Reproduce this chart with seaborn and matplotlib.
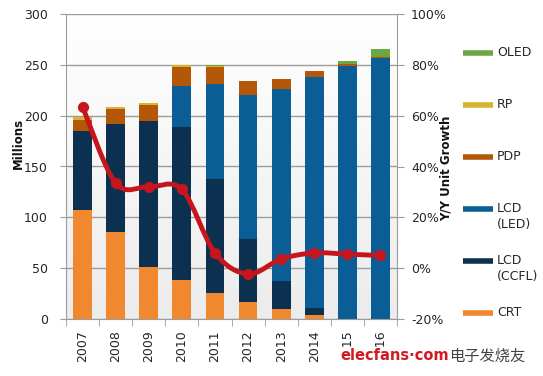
# TV shipments by technology, 2007-2016, with Y/Y unit growth line

import numpy as np
import matplotlib
matplotlib.use("Agg")
import matplotlib.pyplot as plt
import seaborn as sns
from matplotlib.path import Path
from matplotlib.patches import PathPatch
from matplotlib.lines import Line2D
from matplotlib.ticker import FuncFormatter


# data (millions of units)

years = ["2007", "2008", "2009", "2010", "2011", "2012", "2013", "2014", "2015", "2016"]
crt = [107, 86, 51, 38, 25.5, 17, 10, 4, 0, 0]
lcd_ccfl = [78, 106, 144, 151, 112.5, 62, 27, 7, 0, 0]
lcd_led = [0, 0, 0, 40, 93, 141, 189, 227, 249, 257]
pdp = [11, 14.5, 15, 19, 17, 14, 10, 6, 1.5, 0.5]
rp = [3, 2, 2, 1.5, 1, 0.5, 0, 0, 0, 0]
oled = [0, 0, 0, 0, 0.5, 0, 0, 0, 3, 8]
growth = [63.5, 33.5, 32, 31, 6, -2.3, 3.6, 6, 5.5, 5]   # Y/Y unit growth, %

labels = ["CRT", "LCD\n(CCFL)", "LCD\n(LED)", "PDP", "RP", "OLED"]
colors = ["#f08830", "#0c3150", "#0b5e95", "#b45709", "#d8b42c", "#6aa843"]
red = "#c4161c"
gray = "#9c9c9c"


# figure

sns.set_style("white")
plt.rcParams["font.family"] = ["DejaVu Sans"]

fig = plt.figure(figsize=(5.43, 3.76), dpi=100)
W, H = 543, 376
ax = fig.add_axes([66 / W, 1 - 319 / H, (397 - 66) / W, (319 - 14) / H])

# stacked bars: draw cumulative totals, tallest first
layers = [crt, lcd_ccfl, lcd_led, pdp, rp, oled]
cum = np.cumsum(np.array(layers, dtype=float), axis=0)
for i in range(len(layers) - 1, -1, -1):
    sns.barplot(x=years, y=cum[i], color=colors[i], width=0.57, saturation=1,
                linewidth=0, ax=ax, zorder=2)

# soft background gradient
grad = np.linspace(0, 1, 256).reshape(-1, 1)
ax.imshow(grad, extent=[-0.5, 9.5, 0, 300], aspect="auto", origin="upper",
          cmap=matplotlib.colors.LinearSegmentedColormap.from_list("bg", ["#ffffff", "#ececec"]),
          zorder=0)

ax.set_xlim(-0.5, 9.5)
ax.set_ylim(0, 300)
ax.set_yticks(range(0, 301, 50))
ax.set_xticks(range(len(years)))
ax.set_xticklabels(years, rotation=90)
ax.set_xticks(np.arange(-0.5, 10, 1), minor=True)
ax.set_xlabel("")
ax.set_ylabel("")
ax.yaxis.grid(True, color=gray, linewidth=1)
ax.set_axisbelow(True)

ax.tick_params(axis="y", length=4, color=gray, labelsize=9, labelcolor="#262626", pad=9, left=True)
ax.tick_params(axis="x", which="major", length=0, labelsize=9, labelcolor="#262626", pad=8)
ax.tick_params(axis="x", which="minor", length=5, color=gray, bottom=True)

for s in ["left", "bottom"]:
    ax.spines[s].set_color(gray)
ax.spines["top"].set_visible(False)
ax.spines["right"].set_visible(False)


# growth line on the right axis
ax2 = ax.twinx()
ax2.set_ylim(-20, 100)
ax2.set_yticks(range(-20, 101, 20))
ax2.yaxis.set_major_formatter(FuncFormatter(lambda v, p: f"{v:.0f}%"))

pts = np.column_stack([np.arange(len(growth)), growth]).astype(float)
n = len(pts)
verts = [pts[0]]
codes = [Path.MOVETO]
for i in range(n - 1):
    p0 = pts[max(i - 1, 0)]
    p1 = pts[i]
    p2 = pts[i + 1]
    p3 = pts[min(i + 2, n - 1)]
    verts += [p1 + (p2 - p0) / 6, p2 - (p3 - p1) / 6, p2]
    codes += [Path.CURVE4] * 3
ax2.add_patch(PathPatch(Path(verts, codes), facecolor="none", edgecolor=red,
                        linewidth=3.5, capstyle="round", zorder=3))
sns.scatterplot(x=np.arange(len(growth)), y=growth, color=red, s=65,
                linewidth=0, ax=ax2, zorder=4)

ax.set_xlim(-0.5, 9.5)
ax2.set_ylim(-20, 100)
ax2.set_ylabel("")
ax2.tick_params(axis="y", length=5, color=gray, labelsize=9, labelcolor="#262626", pad=5, right=True)
for s in ["left", "bottom", "top"]:
    ax2.spines[s].set_visible(False)
ax2.spines["right"].set_color(gray)

# axis titles
fig.text(18 / W, 1 - 143 / H, "Millions", rotation=90, ha="center", va="center",
         fontsize=8.5, fontweight="bold", color="#111111")
fig.text(446 / W, 1 - 168 / H, "Y/Y Unit Growth", rotation=90, ha="center", va="center",
         fontsize=8.5, fontweight="bold", color="#111111")

# legend, drawn by hand to keep the wide spacing
legend_y = {"OLED": 53, "RP": 105, "PDP": 157, "LCD\n(LED)": 209, "LCD\n(CCFL)": 261, "CRT": 313}
for lab, col in zip(labels, colors):
    y = 1 - legend_y[lab] / H
    fig.add_artist(Line2D([463 / W, 493 / W], [y, y], color=col, linewidth=4,
                          solid_capstyle="butt", transform=fig.transFigure))
    fig.text(497 / W, y + 7 / H, lab, ha="left", va="top", fontsize=9,
             color="#262626", linespacing=1.3)

# watermark (sits over the last x labels, as in the source image)
fig.text(340 / W, 1 - 356 / H, "elecfans·com", ha="left", va="center",
         fontsize=10.5, fontweight="bold", color="#d21a22",
         bbox=dict(facecolor="white", edgecolor="none", pad=1))
fig.text(449 / W, 1 - 356 / H, "电子发烧友", ha="left", va="center",
         fontsize=11, color="#444444", family=["Noto Sans CJK SC", "DejaVu Sans"])

fig.savefig("out.png", dpi=100)
